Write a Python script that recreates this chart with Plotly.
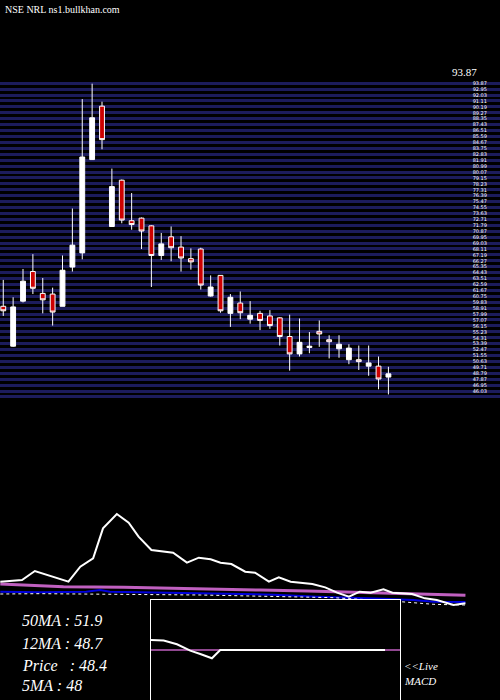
import plotly.graph_objects as go

# --- candles (price panel), one per session ---
opens = [59.2, 53.0, 60.0, 64.6, 61.2, 61.1, 59.2, 65.3, 67.5, 82.0,
         90.3, 71.6, 78.8, 72.5, 72.9, 71.7, 67.1, 70.0, 68.4, 66.6,
         68.1, 60.8, 64.0, 58.1, 59.7, 57.2, 58.1, 57.7, 57.4, 54.5,
         51.8, 52.8, 55.3, 54.0, 52.6, 50.9, 50.9, 49.9, 49.9, 48.2]
highs = [63.3, 60.6, 65.0, 67.3, 63.6, 62.1, 67.1, 74.4, 91.4, 93.8,
         91.0, 80.6, 78.9, 76.8, 73.0, 71.8, 70.6, 71.6, 70.1, 68.2,
         68.3, 64.0, 64.0, 61.1, 61.5, 60.0, 58.5, 58.6, 57.5, 57.9,
         57.3, 55.2, 57.0, 54.7, 54.7, 53.3, 53.1, 53.1, 51.4, 49.8]
lows = [57.7, 52.9, 59.8, 61.1, 58.1, 56.2, 59.2, 64.6, 66.5, 82.0,
        83.6, 71.6, 72.1, 71.1, 68.1, 62.2, 66.4, 66.2, 64.6, 64.9,
        61.8, 60.7, 58.2, 56.0, 57.2, 56.5, 55.5, 55.7, 53.1, 49.2,
        51.4, 51.9, 52.9, 51.1, 51.2, 50.2, 49.3, 48.4, 46.3, 45.5]
closes = [58.5, 59.1, 63.1, 62.0, 60.2, 58.3, 64.8, 68.7, 82.4, 88.5,
          85.1, 77.8, 72.6, 71.9, 70.9, 67.1, 68.9, 68.3, 66.7, 66.1,
          62.5, 62.2, 58.5, 60.6, 58.2, 57.8, 57.0, 56.2, 54.5, 51.8,
          53.6, 53.0, 54.9, 53.7, 53.3, 52.7, 50.6, 50.4, 47.9, 48.7]
sessions = list(range(len(closes)))

# --- indicator panel lines (session, level) ---
osc_x = [-0.3, 1.9, 3.2, 6.6, 7.8, 9.1, 10.1, 11.5, 12.7, 13.7, 15.0, 17.2,
         18.6, 19.8, 21.0, 22.0, 23.1, 24.5, 25.5, 26.9, 27.9, 29.1, 31.3,
         32.6, 33.8, 35.0, 36.1, 37.2, 38.5, 39.4, 41.4, 42.7, 43.9, 45.6, 46.8]
osc_y = [75, 80, 107, 75, 120, 145, 235, 278, 252, 210, 170, 162,
         132, 147, 142, 132, 128, 105, 102, 75, 88, 75, 68, 58, 42, 30,
         45, 42, 52, 42, 38, 25, 20, 5, 10]
ma50_x = [-0.3, 2.7, 6.1, 12.2, 16.5, 20.3, 26.0, 30.8, 34.8, 40.2, 43.9, 46.8]
ma50_y = [68, 65, 60, 58, 55, 52, 50, 47, 44, 39, 35, 34]
ma12_x = [-0.3, 3.7, 8.4, 9.8, 10.8, 16.5, 20.6, 27.4, 31.8, 35.1, 38.5, 41.5, 43.6, 46.8]
ma12_y = [45, 43, 45, 50, 45, 42, 38, 36, 30, 28, 24, 20, 15, 14]
ma5_x = [-0.3, 3.7, 20.0, 33.4, 40.2, 43.6, 46.8]
ma5_y = [38, 39, 35, 27, 15, 7, 5]

# --- MACD inset ---
macd_x = [452, 490, 530, 570, 600, 635, 660, 1155]
macd_y = [420, 422, 433, 452, 462, 475, 450, 450]
signal_x = [452, 1200]
signal_y = [450, 450]

# price scale stripes / labels
top_price = 93.87
stripe_step = 0.92

fig = go.Figure()
fig.add_trace(go.Candlestick(
    x=sessions, open=opens, high=highs, low=lows, close=closes,
    increasing=dict(line=dict(color="white", width=1), fillcolor="white"),
    decreasing=dict(line=dict(color="white", width=1), fillcolor="#cc0000"),
    whiskerwidth=0, xaxis="x", yaxis="y", showlegend=False))

fig.add_trace(go.Scatter(x=ma50_x, y=ma50_y, mode="lines", xaxis="x", yaxis="y2",
                         line=dict(color="#c060c0", width=3), showlegend=False))
fig.add_trace(go.Scatter(x=ma12_x, y=ma12_y, mode="lines", xaxis="x", yaxis="y2",
                         line=dict(color="#0000dd", width=2), showlegend=False))
fig.add_trace(go.Scatter(x=ma5_x, y=ma5_y, mode="lines", xaxis="x", yaxis="y2",
                         line=dict(color="white", width=1, dash="dot"), showlegend=False))
fig.add_trace(go.Scatter(x=osc_x, y=osc_y, mode="lines", xaxis="x", yaxis="y2",
                         line=dict(color="white", width=2), showlegend=False))

fig.add_trace(go.Scatter(x=signal_x, y=signal_y, mode="lines", xaxis="x3", yaxis="y3",
                         line=dict(color="#c060c0", width=1.5), showlegend=False))
fig.add_trace(go.Scatter(x=macd_x, y=macd_y, mode="lines", xaxis="x3", yaxis="y3",
                         line=dict(color="white", width=2), showlegend=False))

tickvals = [round(top_price - i * stripe_step, 2) for i in range(0, 54)]

fig.update_layout(
    width=500, height=700, paper_bgcolor="black", plot_bgcolor="black",
    margin=dict(l=0, r=0, t=0, b=0),
    xaxis=dict(domain=[0, 1], range=[-0.33, 50.3], visible=False,
               rangeslider=dict(visible=False), anchor="y"),
    yaxis=dict(domain=[0.431, 0.886], range=[44.9, 94.4], side="right",
               tickvals=tickvals, ticktext=[f"{v:.2f}" for v in tickvals],
               ticklabelposition="inside", ticklabelstandoff=10, ticks="",
               tickfont=dict(color="white", size=5, family="DejaVu Sans"),
               showgrid=True, gridcolor="#1c1c5c", gridwidth=3,
               zeroline=False, showline=False),
    yaxis2=dict(domain=[0, 0.2857], range=[-280, 320], visible=False, anchor="x"),
    xaxis3=dict(domain=[0.302, 0.8], range=[452, 1200], anchor="y3",
                showticklabels=False, showgrid=False, zeroline=False,
                showline=True, linecolor="white", mirror=True, linewidth=1),
    yaxis3=dict(domain=[0, 0.143], range=[600, 300], anchor="x3",
                showticklabels=False, showgrid=False, zeroline=False,
                showline=True, linecolor="white", mirror=True, linewidth=1),
)

serif = "Liberation Serif"
notes = [
    ("NSE NRL ns1.bullkhan.com", 3, 10, 10, "normal"),
    ("50MA : 51.9", 20, 620, 16, "italic"),
    ("12MA : 48.7", 20, 643, 16, "italic"),
    ("Price   : 48.4", 20, 665, 16, "italic"),
    ("5MA : 48", 20, 685, 16, "italic"),
    ("<<Live", 402, 666, 11, "italic"),
    ("MACD", 402, 681, 11, "italic"),
    ("93.87", 450, 72, 11, "normal"),
]
for text, px, py, size, style in notes:
    fig.add_annotation(text=text, xref="paper", yref="paper", x=px / 500, y=1 - py / 700,
                       xanchor="left", yanchor="middle", showarrow=False,
                       font=dict(color="white", size=size, family=serif, style=style))

fig.write_html("out.html", config={"displayModeBar": False},
               post_script="document.body.style.margin='0';")
